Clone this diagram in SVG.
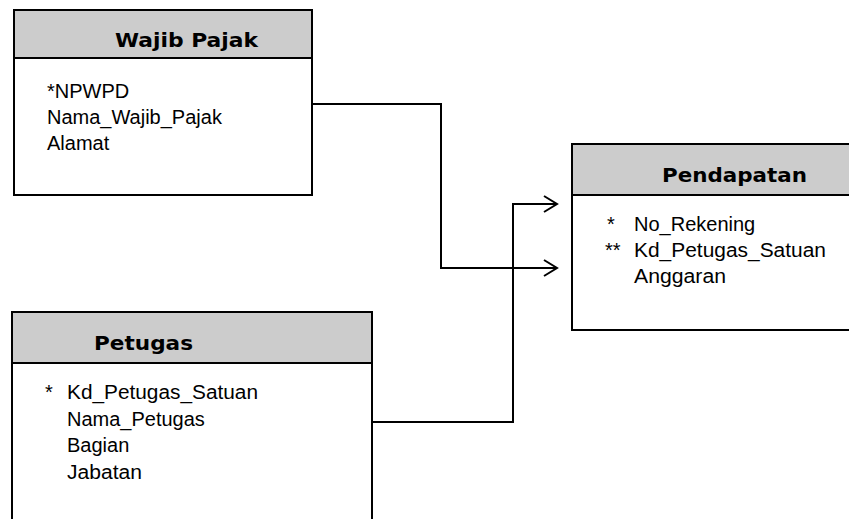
<svg xmlns="http://www.w3.org/2000/svg" width="849" height="519" viewBox="0 0 849 519">
<style>
.box{fill:#fff;stroke:#000;stroke-width:2}
.hdr{fill:#ccc;stroke:#000;stroke-width:2}
.title{font-family:"DejaVu Sans",sans-serif;font-weight:bold;font-size:19px;fill:#000}
.fld{font-family:"Liberation Sans",Arial,sans-serif;font-size:20px;fill:#000}
.conn{fill:none;stroke:#000;stroke-width:2}
</style>
<defs>
<marker id="open" markerUnits="userSpaceOnUse" markerWidth="20" markerHeight="20" refX="15" refY="9" orient="auto" viewBox="0 0 20 20">
<path d="M2,1 L15,9 L2,17" fill="none" stroke="#000" stroke-width="2"/>
</marker>
</defs>
<g id="connectors">
<polyline class="conn" points="312,104 441,104 441,268 557,268" marker-end="url(#open)"/>
<polyline class="conn" points="372,422 513,422 513,204 557,204" marker-end="url(#open)"/>
</g>
<g id="wajib-pajak">
<rect class="box" x="14" y="10" width="298" height="185"/>
<rect class="hdr" x="14" y="10" width="298" height="48"/>
<text class="title" x="115" y="47" textLength="143" lengthAdjust="spacingAndGlyphs">Wajib Pajak</text>
<text class="fld" x="47" y="98">*NPWPD</text>
<text class="fld" x="47" y="124">Nama_Wajib_Pajak</text>
<text class="fld" x="47" y="150">Alamat</text>
</g>
<g id="pendapatan">
<rect class="box" x="572" y="144" width="280" height="186"/>
<rect class="hdr" x="572" y="144" width="280" height="51"/>
<text class="title" x="662" y="182" textLength="145" lengthAdjust="spacingAndGlyphs">Pendapatan</text>
<text class="fld" x="607" y="231">*</text>
<text class="fld" x="634" y="231">No_Rekening</text>
<text class="fld" x="605" y="257">**</text>
<text class="fld" x="634" y="257" textLength="192" lengthAdjust="spacingAndGlyphs">Kd_Petugas_Satuan</text>
<text class="fld" x="634" y="283" textLength="92" lengthAdjust="spacingAndGlyphs">Anggaran</text>
</g>
<g id="petugas">
<rect class="box" x="12" y="312" width="360" height="220"/>
<rect class="hdr" x="12" y="312" width="360" height="51"/>
<text class="title" x="94" y="350" textLength="99" lengthAdjust="spacingAndGlyphs">Petugas</text>
<text class="fld" x="45" y="399">*</text>
<text class="fld" x="67" y="399" textLength="191" lengthAdjust="spacingAndGlyphs">Kd_Petugas_Satuan</text>
<text class="fld" x="67" y="426">Nama_Petugas</text>
<text class="fld" x="67" y="452">Bagian</text>
<text class="fld" x="67" y="479" textLength="75" lengthAdjust="spacingAndGlyphs">Jabatan</text>
</g>
</svg>
